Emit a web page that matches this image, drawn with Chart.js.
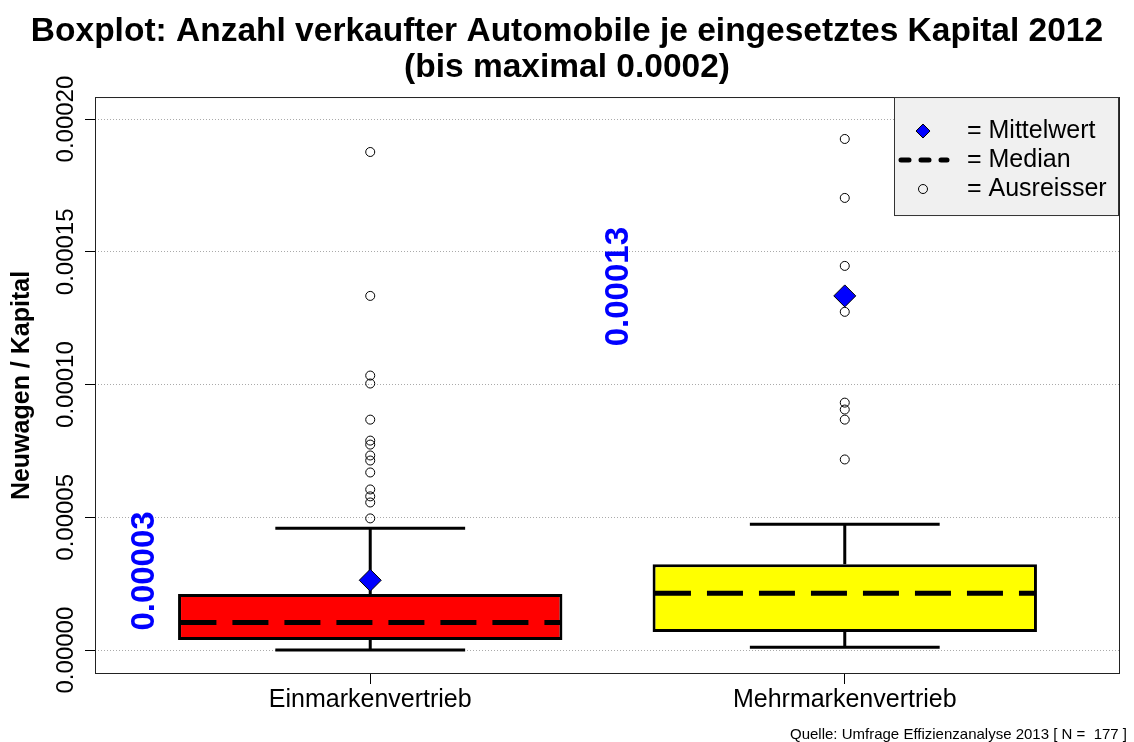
<!DOCTYPE html>
<html lang="de">
<head>
<meta charset="UTF-8">
<title>Boxplot Neuwagen / Kapital</title>
<script src="https://cdn.jsdelivr.net/npm/chart.js"></script>
<style>
  body { margin: 0; background: #fff; }
</style>
</head>
<body>
<canvas id="boxChart" width="1134" height="742"></canvas>
<script>
// ---- data ----
var categories = ['Einmarkenvertrieb', 'Mehrmarkenvertrieb'];
var catPos = [1, 2];
var whiskerLow  = [0.0,       0.0000011];
var q1          = [0.0000038, 0.0000068];
var median      = [0.0000104, 0.0000214];
var q3          = [0.0000211, 0.0000323];
var whiskerHigh = [0.0000459, 0.0000474];
var means       = [0.0000263, 0.0001334];
var outliersEin = [0.0001876, 0.0001334, 0.0001034, 0.0001004, 0.0000868, 0.0000789,
                   0.0000774, 0.0000733, 0.0000714, 0.0000669, 0.0000605, 0.0000579,
                   0.0000556, 0.0000496];
var outliersMehr = [0.0001925, 0.0001703, 0.0001447, 0.0001274, 0.0000932, 0.0000906,
                    0.0000868, 0.0000718];
var yTicks = [0, 0.00005, 0.0001, 0.00015, 0.0002];
var yTickLabels = ['0.00000', '0.00005', '0.00010', '0.00015', '0.00020'];

var FONT = "'Liberation Sans', Arial, Helvetica, sans-serif";
Chart.defaults.font.family = FONT;
Chart.defaults.color = '#000';

// ---- build datasets from the arrays ----
var boxData = catPos.map(function (x, i) { return { x: x, y: [q1[i], q3[i]] }; });
var whiskerData = [], capData = [], medianData = [];
catPos.forEach(function (x, i) {
    whiskerData.push({ x: x, y: q3[i] }, { x: x, y: whiskerHigh[i] }, { x: x, y: null },
                     { x: x, y: q1[i] }, { x: x, y: whiskerLow[i] }, { x: x, y: null });
    capData.push({ x: x - 0.2, y: whiskerHigh[i] }, { x: x + 0.2, y: whiskerHigh[i] }, { x: x + 0.2, y: null },
                 { x: x - 0.2, y: whiskerLow[i] }, { x: x + 0.2, y: whiskerLow[i] }, { x: x + 0.2, y: null });
    medianData.push({ x: x - 0.4, y: median[i] }, { x: x + 0.4, y: median[i] }, { x: x + 0.4, y: null });
});
var meanData = catPos.map(function (x, i) { return { x: x, y: means[i] }; });
var outlierData = outliersEin.map(function (v) { return { x: catPos[0], y: v }; })
    .concat(outliersMehr.map(function (v) { return { x: catPos[1], y: v }; }));

// labels, legend, frame and source line
var extras = {
    id: 'extras',
    afterDraw: function (chart) {
        var ctx = chart.ctx, a = chart.chartArea;
        var xs = chart.scales.x, ys = chart.scales.y;
        ctx.save();

        ctx.strokeStyle = '#222';
        ctx.lineWidth = 1;
        ctx.strokeRect(a.left + 0.5, a.top + 0.5, a.right - a.left - 1, a.bottom - a.top - 1);

        // rotated y tick labels
        ctx.fillStyle = '#000';
        ctx.font = '24px ' + FONT;
        ctx.textAlign = 'center';
        ctx.textBaseline = 'middle';
        yTicks.forEach(function (v, i) {
            ctx.save();
            ctx.translate(a.left - 29, ys.getPixelForValue(v));
            ctx.rotate(-Math.PI / 2);
            ctx.fillText(yTickLabels[i], 0, 0);
            ctx.restore();
        });

        // mean values in blue next to each box
        ctx.fillStyle = '#0000ff';
        ctx.font = 'bold 33px ' + FONT;
        catPos.forEach(function (x, i) {
            ctx.save();
            ctx.translate(xs.getPixelForValue(x - 0.475), ys.getPixelForValue(means[i] + 0.0000035));
            ctx.rotate(-Math.PI / 2);
            ctx.fillText(means[i].toFixed(5), 0, 0);
            ctx.restore();
        });

        // legend box (top right, inside plot)
        var lw = 225, lh = 119;
        var lx = a.right - lw - 1, ly = a.top;
        ctx.fillStyle = '#f0f0f0';
        ctx.fillRect(lx, ly, lw, lh);
        ctx.strokeStyle = '#333';
        ctx.lineWidth = 1;
        ctx.strokeRect(lx + 0.5, ly + 0.5, lw - 1, lh - 1);
        var symX = lx + 29, rows = [ly + 34, ly + 63, ly + 92];

        ctx.beginPath();
        ctx.moveTo(symX - 7, rows[0]); ctx.lineTo(symX, rows[0] - 7);
        ctx.lineTo(symX + 7, rows[0]); ctx.lineTo(symX, rows[0] + 7);
        ctx.closePath();
        ctx.fillStyle = '#0000ff'; ctx.fill();
        ctx.strokeStyle = '#000'; ctx.stroke();

        ctx.beginPath();
        ctx.setLineDash([8, 12]);
        ctx.lineWidth = 5;
        ctx.lineCap = 'round';
        ctx.moveTo(lx + 7, rows[1]); ctx.lineTo(lx + 53, rows[1]);
        ctx.stroke();
        ctx.setLineDash([]);
        ctx.lineCap = 'butt';

        ctx.beginPath();
        ctx.lineWidth = 1;
        ctx.arc(symX, rows[2], 4.5, 0, Math.PI * 2);
        ctx.stroke();

        ctx.fillStyle = '#000';
        ctx.font = '25px ' + FONT;
        ctx.textAlign = 'left';
        ctx.fillText('= Mittelwert', lx + 73, rows[0]);
        ctx.fillText('= Median', lx + 73, rows[1]);
        ctx.fillText('= Ausreisser', lx + 73, rows[2]);

        // source line
        ctx.font = '15px ' + FONT;
        ctx.textAlign = 'right';
        ctx.textBaseline = 'alphabetic';
        ctx.fillText('Quelle: Umfrage Effizienzanalyse 2013 [ N =  177 ]', chart.width - 7, chart.height - 3);
        ctx.restore();
    }
};

new Chart(document.getElementById('boxChart'), {
    type: 'bar',
    data: {
        datasets: [
            {
                type: 'bar', data: boxData, order: 5,
                backgroundColor: ['#ff0000', '#ffff00'],
                borderColor: '#000', borderWidth: 3, borderSkipped: false,
                categoryPercentage: 1, barPercentage: 0.81
            },
            { type: 'line', data: whiskerData, order: 4, borderColor: '#000', borderWidth: 3, pointRadius: 0 },
            { type: 'line', data: capData, order: 4, borderColor: '#000', borderWidth: 3, pointRadius: 0 },
            { type: 'line', data: medianData, order: 3, borderColor: '#000', borderWidth: 5,
              borderDash: [36, 16], pointRadius: 0 },
            { type: 'scatter', data: outlierData, order: 2, pointStyle: 'circle', pointRadius: 4.5,
              backgroundColor: 'rgba(0,0,0,0)', borderColor: '#000', borderWidth: 1 },
            { type: 'scatter', data: meanData, order: 1, pointStyle: 'rectRot', pointRadius: 11,
              backgroundColor: '#0000ff', borderColor: '#000', borderWidth: 1 }
        ]
    },
    options: {
        responsive: false,
        animation: false,
        events: [],
        layout: { padding: { left: 0, right: 0, top: 0, bottom: 26 } },
        plugins: {
            legend: { display: false },
            tooltip: { enabled: false },
            title: {
                display: true,
                text: ['Boxplot: Anzahl verkaufter Automobile je eingesetztes Kapital 2012',
                       '(bis maximal 0.0002)'],
                font: { size: 33.5, weight: 'bold', lineHeight: 1.075 },
                color: '#000',
                padding: { top: 14, bottom: 11 }
            }
        },
        scales: {
            x: {
                type: 'linear', position: 'bottom',
                min: 0.42, max: 2.58, offset: false,
                afterBuildTicks: function (s) { s.ticks = catPos.map(function (v) { return { value: v }; }); },
                grid: { offset: false, drawOnChartArea: false, drawTicks: true, tickLength: 10,
                        color: '#000', tickColor: '#000' },
                border: { display: false },
                ticks: {
                    autoSkip: false, maxRotation: 0, padding: 1,
                    font: { size: 25 }, color: '#000',
                    callback: function (v, i) { return categories[i]; }
                }
            },
            y: {
                type: 'linear', position: 'left',
                min: -0.000009, max: 0.0002083, z: 1,
                afterBuildTicks: function (s) { s.ticks = yTicks.map(function (v) { return { value: v }; }); },
                grid: { color: '#aaaaaa', lineWidth: 1, tickLength: 10, tickColor: '#000',
                        borderDash: [1, 2], tickBorderDash: [] },
                border: { display: false, dash: [1, 2] },
                ticks: { display: false },
                title: {
                    display: true, text: 'Neuwagen / Kapital', color: '#000',
                    font: { size: 25, weight: 'bold', lineHeight: 1.2 },
                    padding: { top: 7, bottom: 48 }
                }
            },
            yRight: {
                type: 'linear', position: 'right', display: true,
                grid: { display: false }, border: { display: false }, ticks: { display: false },
                afterFit: function (s) { s.width = 14; }
            }
        }
    },
    plugins: [extras]
});
</script>
</body>
</html>
